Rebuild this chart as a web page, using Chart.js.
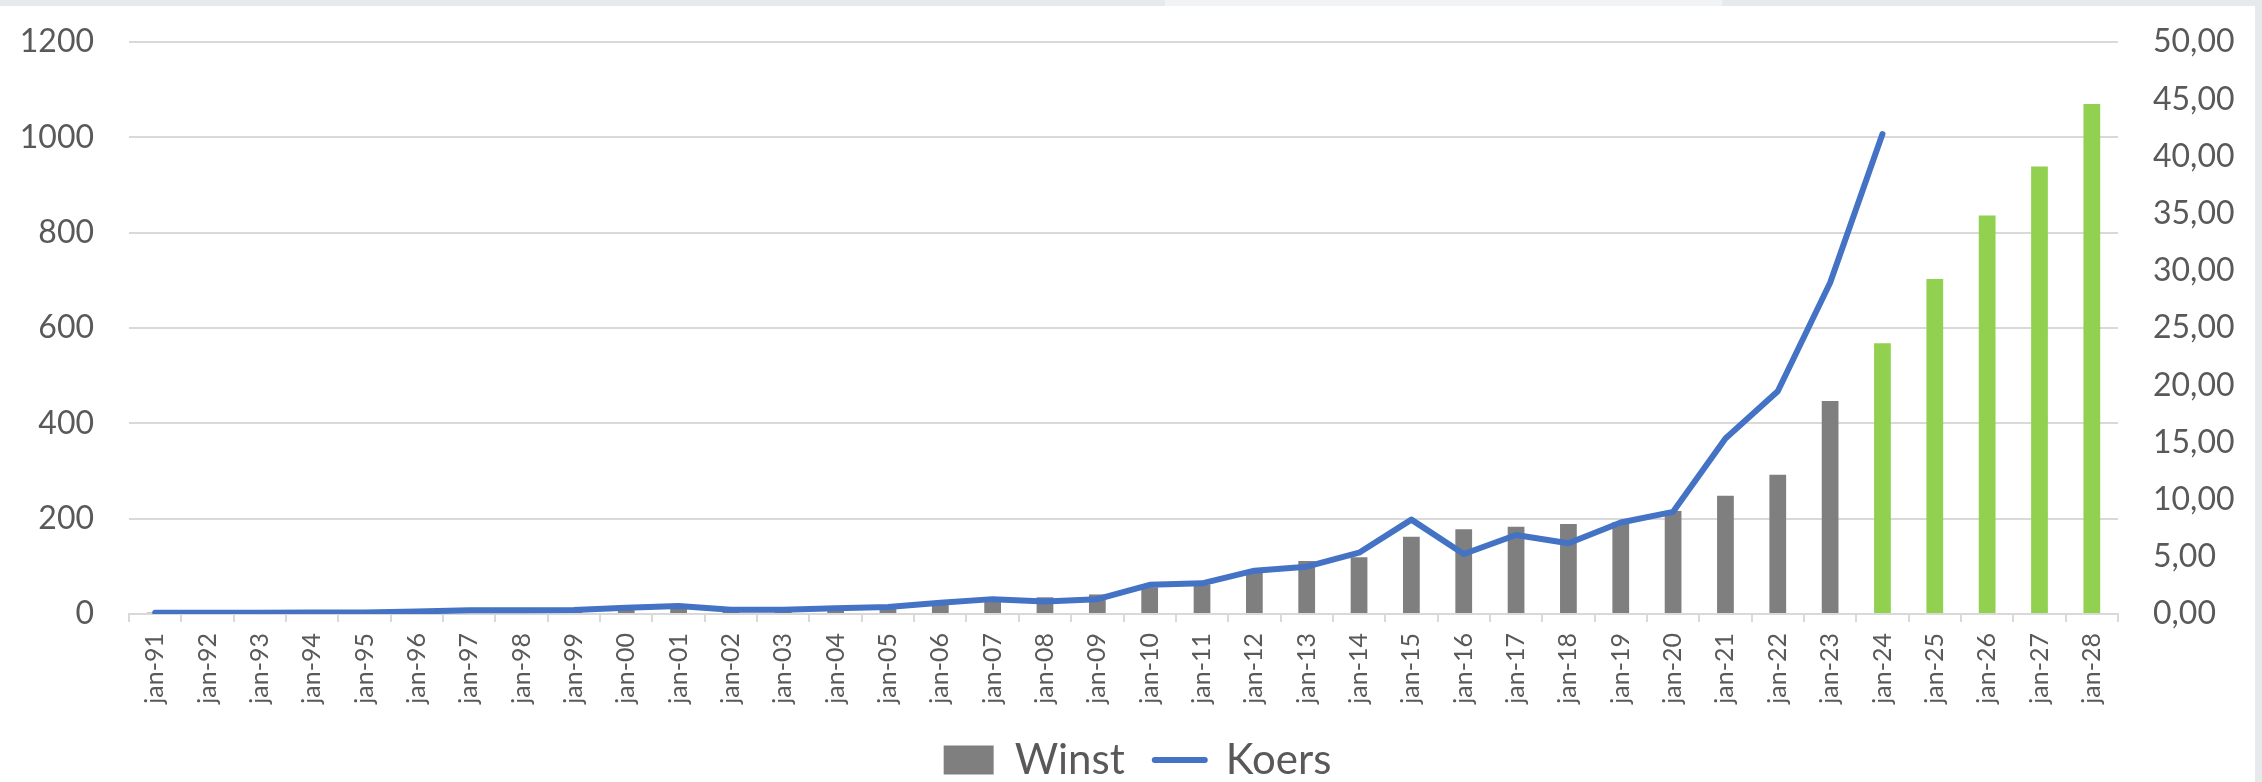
<!DOCTYPE html>
<html>
<head>
<meta charset="utf-8" />
<title>Winst en koers</title>
<script src="https://cdn.jsdelivr.net/npm/chart.js@4.4.1/dist/chart.umd.min.js"></script>
<style>
  html, body {
    margin: 0;
    padding: 0;
    width: 2262px;
    height: 782px;
    overflow: hidden;
    background: #e7eaed;
  }
  #topbar {
    position: absolute;
    left: 0;
    top: 0;
    width: 2262px;
    height: 6px;
    background: linear-gradient(to right, #e7eaed 0, #e7eaed 1165px, #f2f3f5 1165px, #f2f3f5 1722px, #e7eaed 1722px);
  }
  #wrap {
    position: absolute;
    left: 0;
    top: 6px;
    width: 2255px;
    height: 776px;
    background: #ffffff;
  }
</style>
</head>
<body>
<div id="topbar"></div>
<div id="wrap">
  <canvas id="chart" width="2255" height="776"></canvas>
</div>

<script>
  // categories (x axis)
  const labels = [
    "jan-91", "jan-92", "jan-93", "jan-94", "jan-95", "jan-96", "jan-97", "jan-98", "jan-99", "jan-00",
    "jan-01", "jan-02", "jan-03", "jan-04", "jan-05", "jan-06", "jan-07", "jan-08", "jan-09", "jan-10",
    "jan-11", "jan-12", "jan-13", "jan-14", "jan-15", "jan-16", "jan-17", "jan-18", "jan-19", "jan-20",
    "jan-21", "jan-22", "jan-23", "jan-24", "jan-25", "jan-26", "jan-27", "jan-28",
  ];

  // Winst (left axis), from jan-24 on it is a forecast (green)
  const winst = [
    3, 3, 3, 3, 4, 5, 6, 6, 7, 12,
    15, 7, 7, 10, 13, 22, 28, 35, 41, 56,
    62, 88, 111, 119, 162, 178, 183, 189, 193, 216,
    248, 292, 447, 568, 703, 836, 939, 1070,
  ];
  const firstForecast = "jan-24";

  // Koers (right axis)
  const koers = [
    0.12, 0.12, 0.12, 0.13, 0.14, 0.22, 0.32, 0.33, 0.35, 0.55,
    0.7, 0.38, 0.38, 0.5, 0.62, 0.98, 1.3, 1.1, 1.3, 2.55,
    2.68, 3.79, 4.14, 5.36, 8.25, 5.24, 6.91, 6.18, 8.0, 8.93,
    15.34, 19.47, 28.95, 41.96, null, null, null, null,
  ];

  // axis ranges
  const leftMax = 1200;
  const leftStep = 200;
  const rightMax = 50;
  const rightStep = 5;

  const GREY = "#7f7f7f";
  const GREEN = "#92d050";
  const BLUE = "#4472c4";
  const TEXT = "#595959";
  const GRID = "#d9d9d9";
  const FONT = "Lato, 'Open Sans', sans-serif";

  var forecastIdx = labels.indexOf(firstForecast);

  var ctx = document.getElementById("chart").getContext("2d");

  new Chart(ctx, {
    type: "bar",
    data: {
      labels: labels,
      datasets: [
        {
          type: "bar",
          label: "Winst",
          data: winst,
          yAxisID: "y",
          order: 1,
          backgroundColor: (c) => (c.dataIndex >= forecastIdx ? GREEN : GREY),
          borderWidth: 0,
          categoryPercentage: 1,
          barPercentage: 0.32,
        },
        {
          type: "line",
          label: "Koers",
          data: koers,
          yAxisID: "y1",
          order: 0,
          borderColor: BLUE,
          backgroundColor: BLUE,
          borderWidth: 6,
          borderJoinStyle: "round",
          borderCapStyle: "round",
          pointRadius: 0,
          tension: 0,
          spanGaps: false,
        },
      ],
    },
    options: {
      responsive: false,
      animation: false,
      layout: {
        padding: { left: 20, right: 0, top: 36, bottom: -9 },
      },
      plugins: {
        tooltip: { enabled: false },
        legend: {
          display: true,
          position: "bottom",
          labels: {
            color: TEXT,
            font: { family: FONT, size: 42 },
            usePointStyle: true,
            pointStyleWidth: 50,
            boxWidth: 50,
            boxHeight: 29,
            padding: 30,
            generateLabels: function (chart) {
              var ds = chart.data.datasets;
              return [
                {
                  text: ds[0].label,
                  fillStyle: GREY,
                  strokeStyle: GREY,
                  lineWidth: 0,
                  pointStyle: "rect",
                  fontColor: TEXT,
                  datasetIndex: 0,
                },
                {
                  text: ds[1].label,
                  fillStyle: BLUE,
                  strokeStyle: BLUE,
                  lineWidth: 6,
                  lineCap: "round",
                  pointStyle: "line",
                  fontColor: TEXT,
                  datasetIndex: 1,
                },
              ];
            },
          },
        },
      },
      scales: {
        x: {
          offset: true,
          afterFit: (s) => {
            s.height = 95;
          },
          grid: {
            display: true,
            offset: true,
            drawOnChartArea: false,
            drawTicks: true,
            tickLength: 8,
            color: GRID,
            lineWidth: 2,
          },
          border: { display: true, color: GRID, width: 2 },
          ticks: {
            color: TEXT,
            font: { family: FONT, size: 25 },
            minRotation: 90,
            maxRotation: 90,
            autoSkip: false,
            padding: 11,
          },
        },
        y: {
          position: "left",
          min: 0,
          max: leftMax,
          afterFit: (s) => {
            s.width = 109;
          },
          // invisible tick marks keep the labels away from the plot
          grid: { color: GRID, lineWidth: 2, drawTicks: true, tickLength: 35, tickColor: "rgba(0,0,0,0)" },
          border: { display: false },
          ticks: {
            stepSize: leftStep,
            color: TEXT,
            font: { family: FONT, size: 32 },
            padding: 0,
            callback: (v) => String(v),
          },
        },
        y1: {
          position: "right",
          min: 0,
          max: rightMax,
          afterFit: (s) => {
            s.width = 137;
          },
          grid: { drawOnChartArea: false, drawTicks: true, tickLength: 35, tickColor: "rgba(0,0,0,0)" },
          border: { display: false },
          ticks: {
            stepSize: rightStep,
            color: TEXT,
            font: { family: FONT, size: 32 },
            padding: 0,
            callback: (v) => v.toFixed(2).replace(".", ","),
          },
        },
      },
    },
  });
</script>
</body>
</html>
